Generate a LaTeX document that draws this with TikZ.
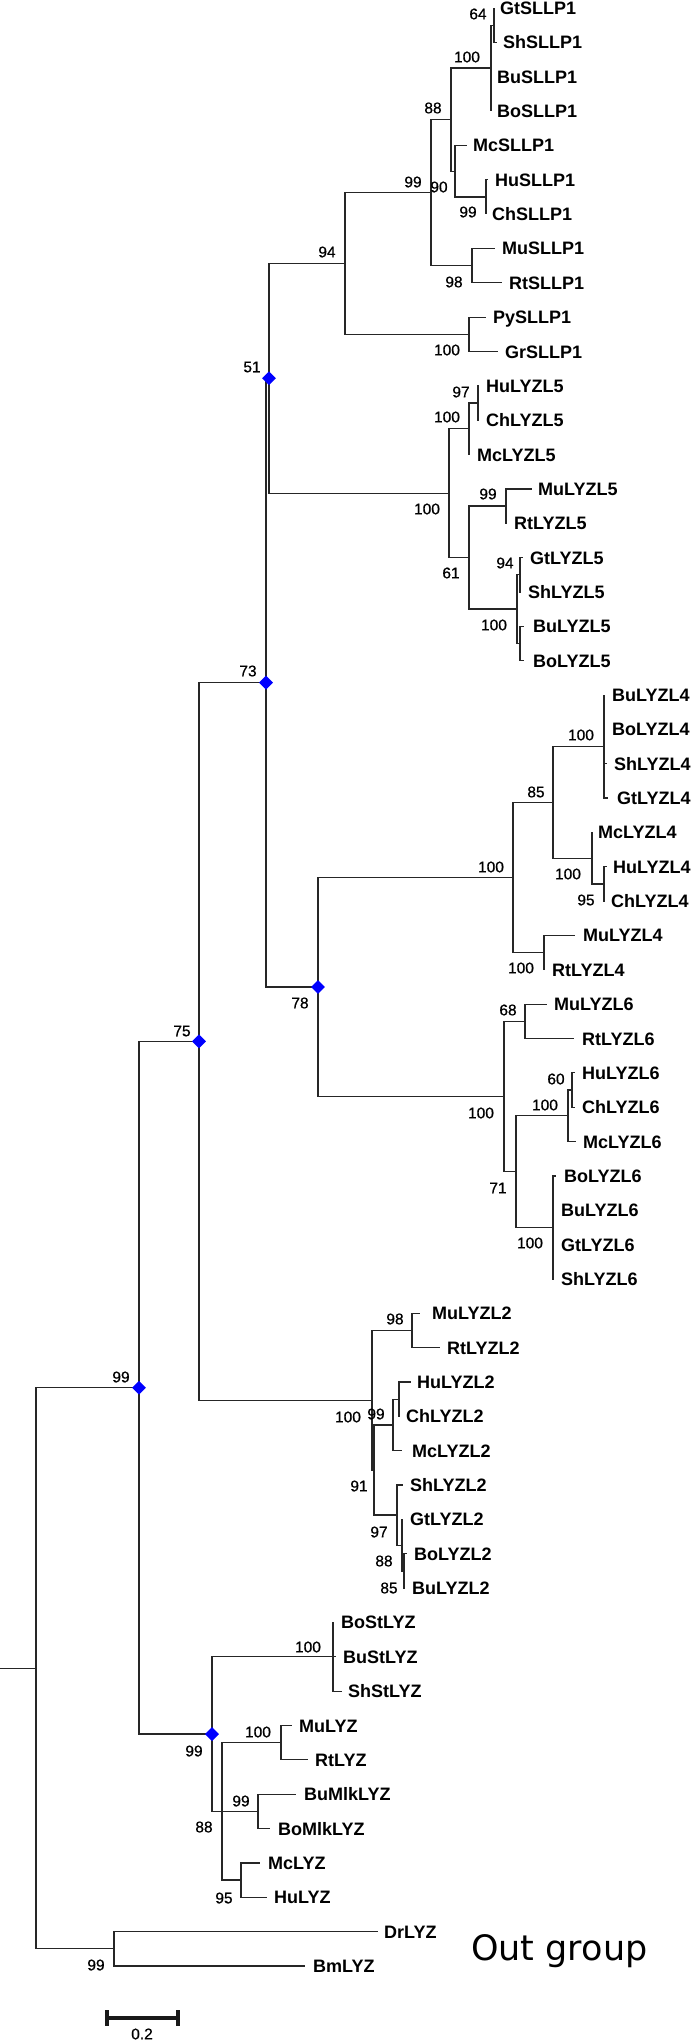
\documentclass[tikz,border=0pt]{standalone}
\usepackage{fontspec}
\setmainfont{Liberation Sans}
\newfontfamily\dejavu{DejaVu Sans}
\newfontfamily\numfont[FakeBold=0.7]{Liberation Sans}
\usetikzlibrary{shapes.geometric}
\tikzset{
  br/.style={line width=1.25pt, black!85},
  leaflab/.style={anchor=base west, inner sep=0pt, font=\bfseries\fontsize{18}{18}\selectfont},
  bs/.style={anchor=center, inner sep=0pt, font=\numfont\fontsize{15.5}{15.5}\selectfont},
  diam/.style={diamond, fill=blue, draw=none, minimum width=14pt, minimum height=14pt, inner sep=0pt},
  sbar/.style={line width=3.4pt, black!90},
}
\newcommand\leaf[6]{%
  \pgfmathsetmacro\ly{8+34.35*#5}%
  \coordinate (#1) at (#3,\ly);
  \node[leaflab] (#1-l) at (#4,\ly+6.5) {#6};
  \draw[br] (#2) |- (#1);
}
\begin{document}
\begin{tikzpicture}[x=1pt,y=-1pt]
\useasboundingbox (0,0) rectangle (694,2040);
% ---- internal nodes
\coordinate (root) at (36,1668.3);
\coordinate (stub) at (0,1668.3);
\coordinate (n99top) at (139,1387.8);
\coordinate (nOut) at (114,1948.8);
\coordinate (n75) at (199,1041.4);
\coordinate (n99St) at (212,1734.1);
\coordinate (n73) at (266,682.6);
\coordinate (n100L2) at (372,1400.3);
\coordinate (n51) at (269,378.3);
\coordinate (n78) at (318,987);
\coordinate (n94) at (345,263.5);
\coordinate (n100L5) at (449,493.2);
\coordinate (n99b) at (431,192.6);
\coordinate (n100PyGr) at (469,334.3);
\coordinate (n88) at (451,119.6);
\coordinate (n98a) at (472,265.6);
\coordinate (nS100) at (491,68.1);
\coordinate (n90) at (455,171.2);
\coordinate (n64) at (494,25.2);
\coordinate (n99a) at (486,196.9);
\coordinate (n100L5a) at (469,428.8);
\coordinate (n97L5) at (478,403);
\coordinate (n61) at (469,557.6);
\coordinate (n99L5) at (506,506.1);
\coordinate (n100L5b) at (517,609.1);
\coordinate (n94L5) at (520,574.8);
\coordinate (nBuBoL5) at (520,643.5);
\coordinate (n100L4) at (513,877.5);
\coordinate (n85) at (553,802.3);
\coordinate (n100L4a) at (604,746.5);
\coordinate (n100L4b) at (592,858.2);
\coordinate (n95L4) at (604,883.9);
\coordinate (n100L4c) at (544,952.6);
\coordinate (n100L6) at (504,1096.5);
\coordinate (n68) at (525,1021.3);
\coordinate (n71) at (516,1171.6);
\coordinate (n100L6a) at (568,1115.8);
\coordinate (n60) at (572,1090);
\coordinate (n100L6b) at (553,1227.4);
\coordinate (n98L2) at (412,1330.5);
\coordinate (n91) at (374,1470);
\coordinate (n99L2) at (393,1424.9);
\coordinate (nHuChL2) at (399,1399.2);
\coordinate (n97L2) at (397,1515.1);
\coordinate (n88L2) at (402,1545.2);
\coordinate (n85L2) at (404,1570.9);
\coordinate (nSt) at (333,1656.8);
\coordinate (n88L) at (222,1811.4);
\coordinate (nMuRt) at (281,1742.7);
\coordinate (nMlk) at (258,1811.4);
\coordinate (nMcHu) at (241,1880.1);
% ---- internal branches
\draw[br] (stub) -- (root);
\draw[br] (root) |- (n99top);
\draw[br] (root) |- (nOut);
\draw[br] (n99top) |- (n75);
\draw[br] (n99top) |- (n99St);
\draw[br] (n75) |- (n73);
\draw[br] (n75) |- (n100L2);
\draw[br] (n73) |- (n51);
\draw[br] (n73) |- (n78);
\draw[br] (n51) |- (n94);
\draw[br] (n51) |- (n100L5);
\draw[br] (n94) |- (n99b);
\draw[br] (n94) |- (n100PyGr);
\draw[br] (n99b) |- (n88);
\draw[br] (n99b) |- (n98a);
\draw[br] (n88) |- (nS100);
\draw[br] (n88) |- (n90);
\draw[br] (nS100) |- (n64);
\draw[br] (n90) |- (n99a);
\draw[br] (n100L5) |- (n100L5a);
\draw[br] (n100L5) |- (n61);
\draw[br] (n100L5a) |- (n97L5);
\draw[br] (n61) |- (n99L5);
\draw[br] (n61) |- (n100L5b);
\draw[br] (n100L5b) |- (n94L5);
\draw[br] (n100L5b) |- (nBuBoL5);
\draw[br] (n78) |- (n100L4);
\draw[br] (n78) |- (n100L6);
\draw[br] (n100L4) |- (n85);
\draw[br] (n100L4) |- (n100L4c);
\draw[br] (n85) |- (n100L4a);
\draw[br] (n85) |- (n100L4b);
\draw[br] (n100L4b) |- (n95L4);
\draw[br] (n100L6) |- (n68);
\draw[br] (n100L6) |- (n71);
\draw[br] (n71) |- (n100L6a);
\draw[br] (n71) |- (n100L6b);
\draw[br] (n100L6a) |- (n60);
\draw[br] (n100L2) |- (n98L2);
\draw[br] (n100L2) |- (n91);
\draw[br] (n91) |- (n99L2);
\draw[br] (n91) |- (n97L2);
\draw[br] (n99L2) |- (nHuChL2);
\draw[br] (n97L2) |- (n88L2);
\draw[br] (n88L2) |- (n85L2);
\draw[br] (n99St) |- (nSt);
\draw[br] (n99St) |- (n88L);
\draw[br] (n88L) |- (nMuRt);
\draw[br] (n88L) |- (nMlk);
\draw[br] (n88L) |- (nMcHu);
% ---- leaves: name, parent, tip x, text x, index, label
\leaf{l0}{n64}{494}{500}{0}{GtSLLP1}
\leaf{l1}{n64}{497}{503}{1}{ShSLLP1}
\leaf{l2}{nS100}{491}{497}{2}{BuSLLP1}
\leaf{l3}{nS100}{491}{497}{3}{BoSLLP1}
\leaf{l4}{n90}{467}{473}{4}{McSLLP1}
\leaf{l5}{n99a}{488}{495}{5}{HuSLLP1}
\leaf{l6}{n99a}{486}{492}{6}{ChSLLP1}
\leaf{l7}{n98a}{495}{502}{7}{MuSLLP1}
\leaf{l8}{n98a}{502}{509}{8}{RtSLLP1}
\leaf{l9}{n100PyGr}{486}{493}{9}{PySLLP1}
\leaf{l10}{n100PyGr}{498}{505}{10}{GrSLLP1}
\leaf{l11}{n97L5}{479}{486}{11}{HuLYZL5}
\leaf{l12}{n97L5}{479}{486}{12}{ChLYZL5}
\leaf{l13}{n100L5a}{470}{477}{13}{McLYZL5}
\leaf{l14}{n99L5}{532}{538}{14}{MuLYZL5}
\leaf{l15}{n99L5}{507}{514}{15}{RtLYZL5}
\leaf{l16}{n94L5}{523}{530}{16}{GtLYZL5}
\leaf{l17}{n94L5}{521}{528}{17}{ShLYZL5}
\leaf{l18}{nBuBoL5}{524}{533}{18}{BuLYZL5}
\leaf{l19}{nBuBoL5}{524}{533}{19}{BoLYZL5}
\leaf{l20}{n100L4a}{604}{612}{20}{BuLYZL4}
\leaf{l21}{n100L4a}{604}{612}{21}{BoLYZL4}
\leaf{l22}{n100L4a}{607}{614}{22}{ShLYZL4}
\leaf{l23}{n100L4a}{608}{617}{23}{GtLYZL4}
\leaf{l24}{n100L4b}{593}{598}{24}{McLYZL4}
\leaf{l25}{n95L4}{607}{613}{25}{HuLYZL4}
\leaf{l26}{n95L4}{605}{611}{26}{ChLYZL4}
\leaf{l27}{n100L4c}{575}{583}{27}{MuLYZL4}
\leaf{l28}{n100L4c}{545}{552}{28}{RtLYZL4}
\leaf{l29}{n68}{547}{554}{29}{MuLYZL6}
\leaf{l30}{n68}{574}{582}{30}{RtLYZL6}
\leaf{l31}{n60}{575}{582}{31}{HuLYZL6}
\leaf{l32}{n60}{575}{582}{32}{ChLYZL6}
\leaf{l33}{n100L6a}{576}{583}{33}{McLYZL6}
\leaf{l34}{n100L6b}{556}{564}{34}{BoLYZL6}
\leaf{l35}{n100L6b}{554}{561}{35}{BuLYZL6}
\leaf{l36}{n100L6b}{554}{561}{36}{GtLYZL6}
\leaf{l37}{n100L6b}{554}{561}{37}{ShLYZL6}
\leaf{l38}{n98L2}{420}{432}{38}{MuLYZL2}
\leaf{l39}{n98L2}{440}{447}{39}{RtLYZL2}
\leaf{l40}{nHuChL2}{411}{417}{40}{HuLYZL2}
\leaf{l41}{nHuChL2}{400}{406}{41}{ChLYZL2}
\leaf{l42}{n99L2}{402}{412}{42}{McLYZL2}
\leaf{l43}{n97L2}{403}{410}{43}{ShLYZL2}
\leaf{l44}{n88L2}{403}{410}{44}{GtLYZL2}
\leaf{l45}{n85L2}{407}{414}{45}{BoLYZL2}
\leaf{l46}{n85L2}{405}{412}{46}{BuLYZL2}
\leaf{l47}{nSt}{334}{341}{47}{BoStLYZ}
\leaf{l48}{nSt}{336}{343}{48}{BuStLYZ}
\leaf{l49}{nSt}{342}{348}{49}{ShStLYZ}
\leaf{l50}{nMuRt}{292}{299}{50}{MuLYZ}
\leaf{l51}{nMuRt}{308}{315}{51}{RtLYZ}
\leaf{l52}{nMlk}{296}{304}{52}{BuMlkLYZ}
\leaf{l53}{nMlk}{270}{278}{53}{BoMlkLYZ}
\leaf{l54}{nMcHu}{260}{268}{54}{McLYZ}
\leaf{l55}{nMcHu}{267}{274}{55}{HuLYZ}
\leaf{l56}{nOut}{378}{384}{56}{DrLYZ}
\leaf{l57}{nOut}{305}{313}{57}{BmLYZ}
% ---- diamonds
\node[diam] (d51) at (n51) {};
\node[diam] (d73) at (n73) {};
\node[diam] (d78) at (n78) {};
\node[diam] (d75) at (n75) {};
\node[diam] (d99) at (n99top) {};
\node[diam] (d99s) at (n99St) {};
% ---- bootstrap values
\node[bs] (b1) at (478,14) {64};
\node[bs] (b2) at (467,57) {100};
\node[bs] (b3) at (433,108) {88};
\node[bs] (b4) at (413,182) {99};
\node[bs] (b5) at (439,187) {90};
\node[bs] (b6) at (468,212) {99};
\node[bs] (b7) at (327,252) {94};
\node[bs] (b8) at (454,282) {98};
\node[bs] (b9) at (447,350) {100};
\node[bs] (b10) at (252,367) {51};
\node[bs] (b11) at (248,671) {73};
\node[bs] (b12) at (461,392) {97};
\node[bs] (b13) at (447,417) {100};
\node[bs] (b14) at (427,509) {100};
\node[bs] (b15) at (488,494) {99};
\node[bs] (b16) at (451,573) {61};
\node[bs] (b17) at (505,563) {94};
\node[bs] (b18) at (494,625) {100};
\node[bs] (b19) at (491,867) {100};
\node[bs] (b20) at (536,792) {85};
\node[bs] (b21) at (581,735) {100};
\node[bs] (b22) at (568,874) {100};
\node[bs] (b23) at (586,900) {95};
\node[bs] (b24) at (521,968) {100};
\node[bs] (b25) at (300,1003) {78};
\node[bs] (b26) at (508,1010) {68};
\node[bs] (b27) at (481,1113) {100};
\node[bs] (b28) at (498,1188) {71};
\node[bs] (b29) at (545,1105) {100};
\node[bs] (b30) at (556,1079) {60};
\node[bs] (b31) at (530,1243) {100};
\node[bs] (b32) at (182,1031) {75};
\node[bs] (b33) at (395,1319) {98};
\node[bs] (b34) at (348,1417) {100};
\node[bs] (b35) at (376,1414) {99};
\node[bs] (b36) at (359,1486) {91};
\node[bs] (b37) at (379,1532) {97};
\node[bs] (b38) at (384,1561) {88};
\node[bs] (b39) at (389,1588) {85};
\node[bs] (b40) at (121,1377) {99};
\node[bs] (b41) at (308,1647) {100};
\node[bs] (b42) at (194,1751) {99};
\node[bs] (b43) at (258,1732) {100};
\node[bs] (b44) at (241,1801) {99};
\node[bs] (b45) at (204,1827) {88};
\node[bs] (b46) at (224,1898) {95};
\node[bs] (b47) at (96,1965) {99};
% ---- out group label
\node[anchor=base west, inner sep=0pt, font=\dejavu\fontsize{35}{35}\selectfont] (og) at (471,1960) {Out group};
% ---- scale bar
\coordinate (sbL) at (107,2018);
\coordinate (sbR) at (178,2018);
\coordinate (sbLt) at (107,2010);
\coordinate (sbLb) at (107,2026);
\coordinate (sbRt) at (178,2010);
\coordinate (sbRb) at (178,2026);
\draw[sbar] (sbL) -- (sbR);
\draw[sbar] (sbLt) -- (sbLb);
\draw[sbar] (sbRt) -- (sbRb);
\node[bs] (sbl) at (142,2034) {0.2};
\end{tikzpicture}
\end{document}
